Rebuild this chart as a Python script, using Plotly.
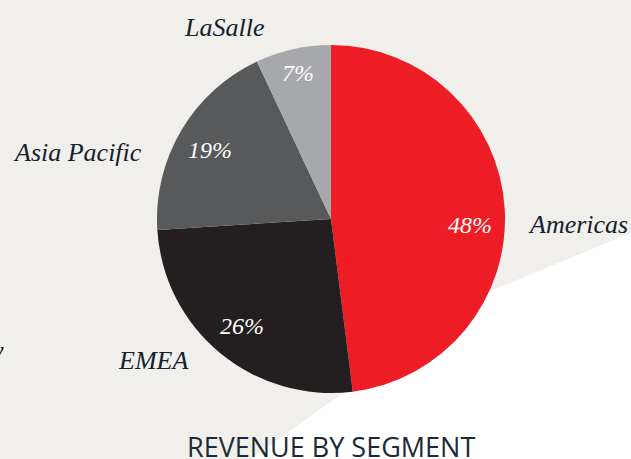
import math
import plotly.graph_objects as go

segments = ["Americas", "EMEA", "Asia Pacific", "LaSalle"]
shares = [48, 26, 19, 7]
colors = ["#ee1d25", "#231f20", "#58595b", "#a6a8ab"]
title_text = "REVENUE BY SEGMENT"

W, H = 631, 459
cx, cy, r = 331, 219, 174

def px(x):
    return x / W

def py(y):
    return 1 - y / H

fig = go.Figure()
fig.add_trace(go.Pie(
    labels=segments,
    values=shares,
    sort=False,
    direction="clockwise",
    rotation=0,
    marker=dict(colors=colors, line=dict(width=0)),
    textinfo="none",
    hoverinfo="label+percent",
    showlegend=False,
    domain=dict(x=[px(cx - r), px(cx + r)], y=[py(cy + r), py(cy - r)]),
))

# percentage labels placed near the mid-angle of each slice
angle_nudge = {"Americas": 6.0, "EMEA": 0.0, "Asia Pacific": -1.0, "LaSalle": 0.0}
total = sum(shares)
cum = 0
for name, v in zip(segments, shares):
    mid = math.radians((cum + v / 2) / total * 360 + angle_nudge[name])
    cum += v
    rr = 0.8 * r if v > 10 else 0.86 * r
    x = cx + rr * math.sin(mid)
    y = cy - rr * math.cos(mid)
    fig.add_annotation(
        x=px(x), y=py(y), xref="paper", yref="paper",
        text=f"{v}%", showarrow=False, xanchor="center", yanchor="middle",
        font=dict(family="Liberation Serif", size=24, color="white", style="italic"),
    )

# outside segment labels
label_pos = {
    "Americas": (578, 224),
    "EMEA": (153, 360),
    "Asia Pacific": (77, 152),
    "LaSalle": (224, 27),
}
for name in segments:
    x, y = label_pos[name]
    fig.add_annotation(
        x=px(x), y=py(y), xref="paper", yref="paper",
        text=name, showarrow=False, xanchor="center", yanchor="middle",
        font=dict(family="Liberation Serif", size=26, color="#14212e", style="italic"),
    )

# clipped fragment at left edge
fig.add_annotation(
    x=px(6), y=py(350), xref="paper", yref="paper",
    text="y", showarrow=False, xanchor="right", yanchor="middle",
    font=dict(family="Liberation Serif", size=26, color="#14212e", style="italic"),
)

fig.add_annotation(
    x=px(331), y=py(446), xref="paper", yref="paper",
    text=title_text, showarrow=False, xanchor="center", yanchor="middle",
    font=dict(family="Open Sans", size=27, color="#1b2a38"),
)

bg_pts = [(0, 0), (631, 0), (631, 233), (478, 296), (340, 395), (251, 459), (0, 459)]
path = "M " + " L ".join(f"{px(x):.4f},{py(y):.4f}" for x, y in bg_pts) + " Z"
fig.add_shape(type="path", path=path, xref="paper", yref="paper",
              fillcolor="#f0efeb", line=dict(width=0), layer="below")

fig.update_layout(
    width=W, height=H,
    margin=dict(l=0, r=0, t=0, b=0),
    paper_bgcolor="white",
    plot_bgcolor="white",
)

fig.write_html(
    "out.html",
    config={"displayModeBar": False},
    post_script="document.body.style.margin='0';document.body.style.overflow='hidden';",
)
